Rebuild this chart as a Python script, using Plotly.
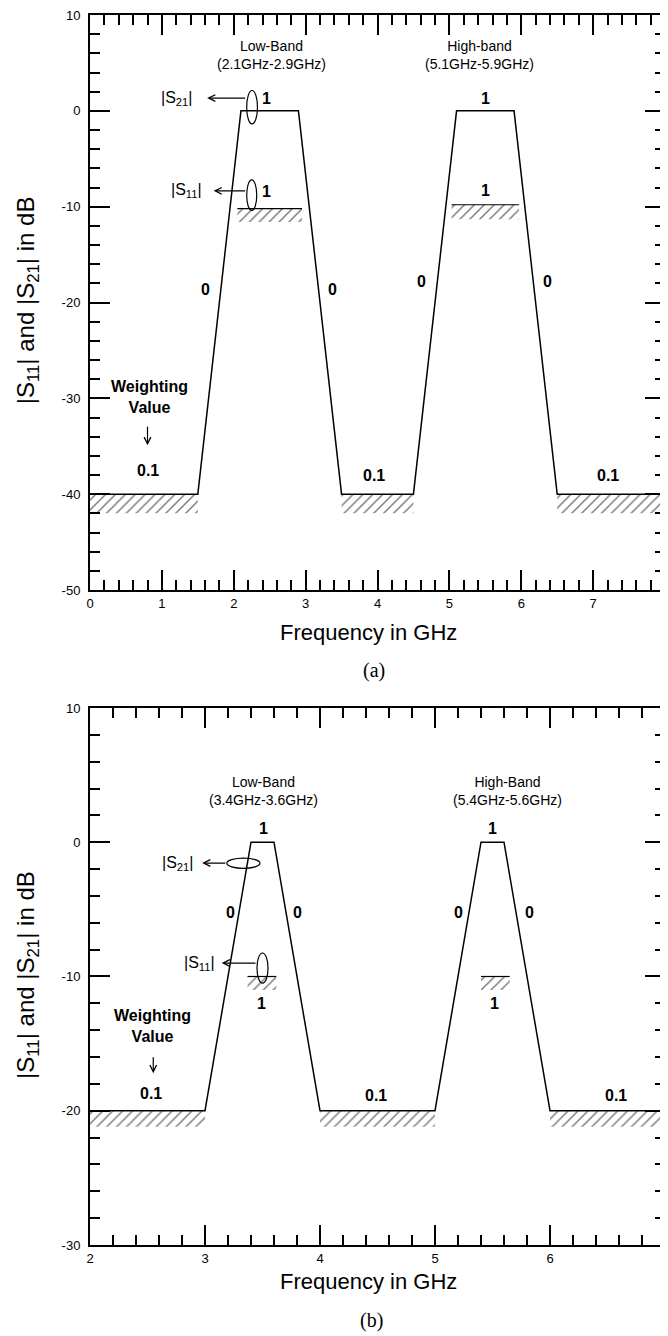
import plotly.graph_objects as go

# ---------------- Panel (a) data ----------------
freq_a = [0, 1.5, 2.1, 2.9, 3.5, 4.5, 5.1, 5.9, 6.5, 8]
s21_a = [-40, -40, 0, 0, -40, -40, 0, 0, -40, -40]
stop_a_x0 = [0, 3.5, 6.5]
stop_a_x1 = [1.5, 4.5, 8]
stop_a_top = [-40, -40, -40]
stop_a_bot = [-42, -42, -42]
pass_a_x0 = [2.05, 5.03]
pass_a_x1 = [2.95, 5.97]
pass_a_top = [-10.2, -9.8]
pass_a_bot = [-11.6, -11.3]
xticks_a = [0, 1, 2, 3, 4, 5, 6, 7, 8]
yticks_a = [-50, -40, -30, -20, -10, 0, 10]

wlab_a_text = ["1", "1", "1", "1", "0", "0", "0", "0", "0.1", "0.1", "0.1"]
wlab_a_x = [2.46, 2.46, 5.5, 5.5, 1.6, 3.38, 4.61, 6.37, 0.8, 3.95, 7.21]
wlab_a_y = [1.3, -8.4, 1.3, -8.3, -18.6, -18.6, -17.8, -17.8, -37.5, -38.0, -38.0]

band_a_text = ["Low-Band<br>(2.1GHz-2.9GHz)", "High-band<br>(5.1GHz-5.9GHz)"]
band_a_x = [2.52, 5.42]
band_a_y = [5.8, 5.8]

# ---------------- Panel (b) data ----------------
freq_b = [2, 3, 3.4, 3.6, 4, 5, 5.4, 5.6, 6, 7]
s21_b = [-20, -20, 0, 0, -20, -20, 0, 0, -20, -20]
stop_b_x0 = [2, 4, 6]
stop_b_x1 = [3, 5, 7]
stop_b_top = [-20, -20, -20]
stop_b_bot = [-21.2, -21.2, -21.2]
pass_b_x0 = [3.37, 5.40]
pass_b_x1 = [3.62, 5.65]
pass_b_top = [-10, -10]
pass_b_bot = [-11, -11]
xticks_b = [2, 3, 4, 5, 6, 7]
yticks_b = [-30, -20, -10, 0, 10]

wlab_b_text = ["1", "1", "1", "1", "0", "0", "0", "0", "0.1", "0.1", "0.1"]
wlab_b_x = [3.51, 3.49, 5.5, 5.52, 3.22, 3.8, 5.2, 5.82, 2.53, 4.49, 6.57]
wlab_b_y = [1.0, -12.0, 1.0, -12.0, -5.2, -5.2, -5.2, -5.2, -18.7, -18.9, -18.9]

band_b_text = ["Low-Band<br>(3.4GHz-3.6GHz)", "High-Band<br>(5.4GHz-5.6GHz)"]
band_b_x = [3.51, 5.63]
band_b_y = [3.78, 3.78]

SANS = "Liberation Sans, Arial, sans-serif"
SERIF = "Liberation Serif, Times New Roman, serif"

fig = go.Figure()


def hatch(x0s, x1s, tops, bots, xa, ya, top_line):
    xs, ys = [], []
    for a, b, t, u in zip(x0s, x1s, tops, bots):
        xs += [a, b, b, a, a, None]
        ys += [t, t, u, u, t, None]
    fig.add_trace(go.Scatter(
        x=xs, y=ys, mode="lines", fill="toself", line=dict(width=0, color="black"),
        fillcolor="rgba(0,0,0,0)",
        fillpattern=dict(shape="/", size=7, solidity=0.22, fgcolor="black",
                         bgcolor="rgba(0,0,0,0)"),
        xaxis=xa, yaxis=ya, showlegend=False, hoverinfo="skip"))
    if top_line:
        lx, ly = [], []
        for a, b, t in zip(x0s, x1s, tops):
            lx += [a, b, None]
            ly += [t, t, None]
        fig.add_trace(go.Scatter(x=lx, y=ly, mode="lines", line=dict(width=1.2, color="black"),
                                 xaxis=xa, yaxis=ya, showlegend=False, hoverinfo="skip"))


hatch(stop_a_x0, stop_a_x1, stop_a_top, stop_a_bot, "x", "y", False)
hatch(pass_a_x0, pass_a_x1, pass_a_top, pass_a_bot, "x", "y", True)
hatch(stop_b_x0, stop_b_x1, stop_b_top, stop_b_bot, "x2", "y2", False)
hatch(pass_b_x0, pass_b_x1, pass_b_top, pass_b_bot, "x2", "y2", True)

fig.add_trace(go.Scatter(x=freq_a, y=s21_a, mode="lines", line=dict(color="black", width=1.5),
                         xaxis="x", yaxis="y", showlegend=False))
fig.add_trace(go.Scatter(x=freq_b, y=s21_b, mode="lines", line=dict(color="black", width=1.5),
                         xaxis="x2", yaxis="y2", showlegend=False))

# weighting-value labels
for txt, x, y in zip(wlab_a_text, wlab_a_x, wlab_a_y):
    fig.add_annotation(x=x, y=y, xref="x", yref="y", text="<b>%s</b>" % txt, showarrow=False,
                       font=dict(family=SANS, size=16, color="black"))
for txt, x, y in zip(wlab_b_text, wlab_b_x, wlab_b_y):
    fig.add_annotation(x=x, y=y, xref="x2", yref="y2", text="<b>%s</b>" % txt, showarrow=False,
                       font=dict(family=SANS, size=16, color="black"))

for txt, x, y in zip(band_a_text, band_a_x, band_a_y):
    fig.add_annotation(x=x, y=y, xref="x", yref="y", text=txt, showarrow=False,
                       font=dict(family=SANS, size=14, color="black"))
for txt, x, y in zip(band_b_text, band_b_x, band_b_y):
    fig.add_annotation(x=x, y=y, xref="x2", yref="y2", text=txt, showarrow=False,
                       font=dict(family=SANS, size=14, color="black"))

# "Weighting Value" notes
fig.add_annotation(x=0.83, y=-29.85, xref="x", yref="y", text="<b>Weighting<br>Value</b>",
                   showarrow=False, font=dict(family=SANS, size=16, color="black"))
fig.add_annotation(x=2.545, y=-13.7, xref="x2", yref="y2", text="<b>Weighting<br>Value</b>",
                   showarrow=False, font=dict(family=SANS, size=16, color="black"))

# S-parameter labels
s_labels = [
    ("x", "y", "|S<sub>21</sub>|", 1.21, 1.33),
    ("x", "y", "|S<sub>11</sub>|", 1.345, -8.35),
    ("x2", "y2", "|S<sub>21</sub>|", 2.765, -1.55),
    ("x2", "y2", "|S<sub>11</sub>|", 2.948, -9.0),
]
for xr, yr, txt, x, y in s_labels:
    fig.add_annotation(x=x, y=y, xref=xr, yref=yr, text=txt, showarrow=False,
                       font=dict(family=SANS, size=16, color="black"))

# arrows (tail -> tip)
arrows = [
    ("x", "y", 2.18, 1.33, 1.63, 1.33),
    ("x", "y", 2.18, -8.35, 1.72, -8.35),
    ("x", "y", 0.80, -32.8, 0.80, -34.9),
    ("x2", "y2", 3.19, -1.55, 2.975, -1.55),
    ("x2", "y2", 3.452, -9.0, 3.145, -9.0),
    ("x2", "y2", 2.55, -15.9, 2.55, -17.2),
]
for xr, yr, tx, ty, hx, hy in arrows:
    fig.add_annotation(x=hx, y=hy, ax=tx, ay=ty, xref=xr, yref=yr, axref=xr, ayref=yr,
                       text="", showarrow=True, arrowhead=5, arrowsize=1.1, arrowwidth=1.2,
                       arrowcolor="black", standoff=0, startstandoff=0)

# ellipses marking the S21 / S11 groups
ellipses = [
    ("x", "y", 2.18, 2.33, -1.36, 2.12),
    ("x", "y", 2.18, 2.32, -10.4, -7.2),
    ("x2", "y2", 3.19, 3.478, -1.94, -1.19),
    ("x2", "y2", 3.452, 3.548, -10.5, -8.25),
]
for xr, yr, x0, x1, y0, y1 in ellipses:
    fig.add_shape(type="circle", xref=xr, yref=yr, x0=x0, x1=x1, y0=y0, y1=y1,
                  line=dict(color="black", width=1.2), fillcolor="rgba(0,0,0,0)", layer="above")

# axis titles and captions (paper coords)
ytitle = "|S<sub>11</sub>| and |S<sub>21</sub>| in dB"
paper_texts = [
    (-0.1096, 0.768, ytitle, -90, SANS, 24),
    (-0.1096, 0.2195, ytitle, -90, SANS, 24),
    (0.485, 0.498, "Frequency in GHz", 0, SANS, 22),
    (0.485, -0.030, "Frequency in GHz", 0, SANS, 22),
    (0.494, 0.4667, "(a)", 0, SERIF, 20),
    (0.490, -0.061, "(b)", 0, SERIF, 20),
]
for x, y, txt, ang, fam, sz in paper_texts:
    fig.add_annotation(x=x, y=y, xref="paper", yref="paper", text=txt, textangle=ang,
                       xanchor="center", yanchor="middle", showarrow=False,
                       font=dict(family=fam, size=sz, color="black"))


def xax(rng, ticks, anchor):
    return dict(range=rng, tickvals=ticks, ticktext=[str(t) for t in ticks], anchor=anchor,
                domain=[0, 1], showgrid=False, zeroline=False, showline=True, linecolor="black",
                linewidth=2, mirror="allticks", ticks="inside", ticklen=20, tickwidth=1.5,
                tickcolor="black", automargin=False, ticklabeloverflow="allow",
                tickfont=dict(family=SANS, size=13, color="black"),
                minor=dict(dtick=0.2, tick0=rng[0], ticks="inside", ticklen=10, tickwidth=1.5,
                           tickcolor="black", showgrid=False))


def yax(rng, ticks, anchor, dom):
    return dict(range=rng, tickvals=ticks, ticktext=[str(t) for t in ticks], anchor=anchor,
                domain=dom, showgrid=False, zeroline=False, showline=True, linecolor="black",
                linewidth=2, mirror="allticks", ticks="inside", ticklen=20, tickwidth=1.5,
                tickcolor="black", automargin=False, ticklabeloverflow="allow",
                ticklabelstandoff=5,
                tickfont=dict(family=SANS, size=13, color="black"),
                minor=dict(dtick=2, tick0=rng[0], ticks="inside", ticklen=10, tickwidth=1.5,
                           tickcolor="black", showgrid=False))


# the page body has an 8px margin, so the figure is 8px smaller and shifted
fig.update_layout(
    width=660, height=1328,
    margin=dict(l=82, r=3, t=7, b=91, autoexpand=False),
    paper_bgcolor="white", plot_bgcolor="white",
    showlegend=False,
    xaxis=xax([0, 8], xticks_a, "y"),
    yaxis=yax([-50, 10], yticks_a, "x", [0.5325, 1]),
    xaxis2=xax([2, 7], xticks_b, "y2"),
    yaxis2=yax([-30, 10], yticks_b, "x2", [0, 0.4366]),
)

fig.write_html("out.html")
